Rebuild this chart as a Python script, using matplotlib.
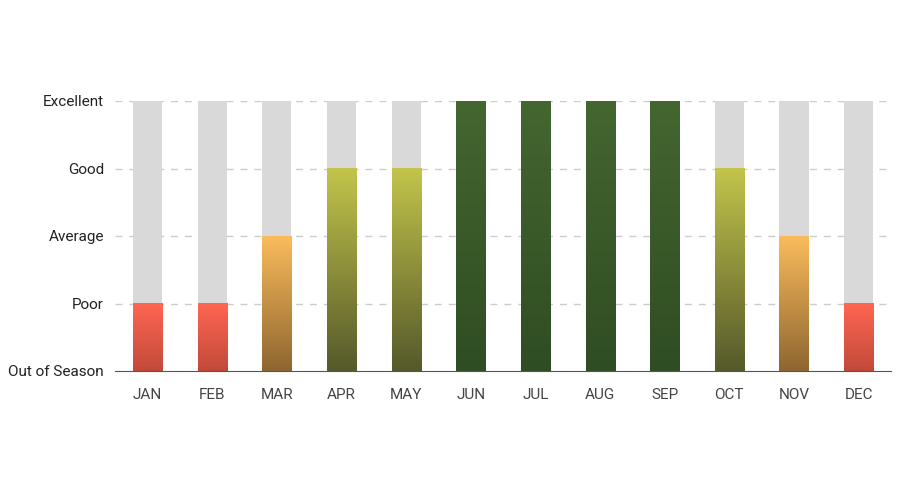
import matplotlib
matplotlib.use("Agg")
import matplotlib.pyplot as plt
import numpy as np
from matplotlib.colors import LinearSegmentedColormap

months = ["JAN","FEB","MAR","APR","MAY","JUN","JUL","AUG","SEP","OCT","NOV","DEC"]
values = [1,1,2,3,3,4,4,4,4,3,2,1]
levels = ["Out of Season","Poor","Average","Good","Excellent"]
# gradient colours per level (top, bottom)
grad = {1:("#ff6652","#c24a3b"), 2:("#fabb5c","#8f6630"), 3:("#c2c44b","#56592a"), 4:("#44662f","#2f4d23")}

plt.rcParams['font.family'] = ['Roboto','DejaVu Sans']
fig = plt.figure(figsize=(9,5), dpi=100)
ax = fig.add_axes([0.128,0.258,0.862,0.54])
x = np.arange(len(months))
w = 0.45
for yv in range(1,5):
    ax.axhline(yv, color="#cccccc", ls=(0,(5,5)), lw=1, zorder=0)
ax.bar(x, [4]*len(x), width=w, color="#d9d9d9", zorder=1)
for xi, v in zip(x, values):
    top, bot = grad[v]
    cmap = LinearSegmentedColormap.from_list("g", [bot, top])
    img = np.linspace(0,1,100).reshape(-1,1)
    ax.imshow(img, cmap=cmap, origin="lower", aspect="auto",
              extent=(xi-w/2, xi+w/2, 0, v), zorder=2)
ax.set_xlim(-0.5, len(x)-0.5)
ax.set_ylim(0, 4)
ax.set_yticks(range(5))
ax.set_yticklabels(levels, fontsize=11, color="#222222")
ax.set_xticks(x)
ax.set_xticklabels(months, fontsize=11, color="#444444")
ax.tick_params(axis='y', length=0, pad=8)
ax.tick_params(axis='x', length=0, pad=12)
for s in ["top","right","left"]:
    ax.spines[s].set_visible(False)
ax.spines["bottom"].set_color("#555555")
fig.savefig("out.png", dpi=100)
